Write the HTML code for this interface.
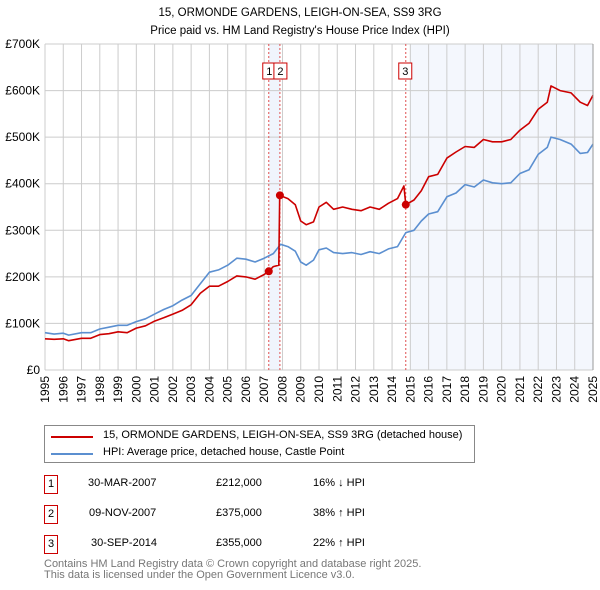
<!DOCTYPE html>
<html><head><meta charset="utf-8"><style>
body{margin:0;background:#fff;font-family:"Liberation Sans","DejaVu Sans",sans-serif;}
#wrap{position:relative;width:600px;height:590px;overflow:hidden}
.t{position:absolute;font-size:11px;color:#000;white-space:nowrap}
</style></head><body><div id="wrap">
<svg id="chart" width="600" height="415" style="position:absolute;left:0;top:0"></svg>
<div style="position:absolute;left:44px;top:425px;width:429px;height:36px;border:1px solid #888;background:#fff">
 <div><div style="position:absolute;left:6px;top:10px;width:42px;height:2px;background:#cc0000"></div><span class="t" style="left:58px;top:3px">15, ORMONDE GARDENS, LEIGH-ON-SEA, SS9 3RG (detached house)</span></div>
 <div><div style="position:absolute;left:6px;top:27px;width:42px;height:2px;background:#5b8fd0"></div><span class="t" style="left:58px;top:20px">HPI: Average price, detached house, Castle Point</span></div>
</div>
<div>
<div><div class="t" style="left:44px;top:475px;width:12px;height:17px;border:1px solid #cc0000;text-align:center;line-height:17px">1</div><span class="t" style="left:88px;top:477px">30-MAR-2007</span><span class="t" style="left:216px;top:477px">£212,000</span><span class="t" style="left:313px;top:477px">16% ↓ HPI</span></div>
<div><div class="t" style="left:44px;top:505px;width:12px;height:17px;border:1px solid #cc0000;text-align:center;line-height:17px">2</div><span class="t" style="left:89px;top:507px">09-NOV-2007</span><span class="t" style="left:216px;top:507px">£375,000</span><span class="t" style="left:313px;top:507px">38% ↑ HPI</span></div>
<div><div class="t" style="left:44px;top:535px;width:12px;height:17px;border:1px solid #cc0000;text-align:center;line-height:17px">3</div><span class="t" style="left:91px;top:537px">30-SEP-2014</span><span class="t" style="left:216px;top:537px">£355,000</span><span class="t" style="left:313px;top:537px">22% ↑ HPI</span></div>
</div>
<div class="t" style="left:44px;top:559px;color:#777;font-size:11px;line-height:10.5px">Contains HM Land Registry data © Crown copyright and database right 2025.<br>This data is licensed under the Open Government Licence v3.0.</div>
</div>
<script>
const hpiYears=[1995,1995.5,1996,1996.3,1997,1997.5,1998,1998.5,1999,1999.5,2000,2000.5,2001,2001.5,2002,2002.5,2003,2003.5,2004,2004.5,2005,2005.5,2006,2006.5,2007,2007.5,2007.9,2008.3,2008.7,2009,2009.3,2009.7,2010,2010.4,2010.8,2011.3,2011.8,2012.3,2012.8,2013.3,2013.8,2014.3,2014.75,2015.2,2015.6,2016,2016.5,2017,2017.5,2018,2018.5,2019,2019.5,2020,2020.5,2021,2021.5,2022,2022.5,2022.7,2023.2,2023.8,2024.3,2024.7,2025];
const hpiValues=[80,77,79,75,80,80,88,92,96,96,104,110,120,130,138,150,160,185,210,215,225,240,238,232,240,250,270,265,255,232,225,236,258,262,252,250,252,248,254,250,260,265,295,300,320,335,340,372,380,398,393,408,402,400,402,422,430,463,478,500,495,485,465,467,485];
const propYears=[1995,1995.5,1996,1996.3,1997,1997.5,1998,1998.5,1999,1999.5,2000,2000.5,2001,2001.5,2002,2002.5,2003,2003.5,2004,2004.5,2005,2005.5,2006,2006.5,2007,2007.25,2007.5,2007.8,2007.85,2008.3,2008.7,2009,2009.3,2009.7,2010,2010.4,2010.8,2011.3,2011.8,2012.3,2012.8,2013.3,2013.8,2014.3,2014.65,2014.75,2015.2,2015.6,2016,2016.5,2017,2017.5,2018,2018.5,2019,2019.5,2020,2020.5,2021,2021.5,2022,2022.5,2022.7,2023.2,2023.8,2024.3,2024.7,2025];
const propValues=[67,66,67,63,68,68,76,78,82,80,90,95,105,112,120,128,140,165,180,180,190,202,200,195,205,212,222,225,375,368,355,320,312,318,350,360,345,350,345,342,350,345,358,368,395,355,365,385,415,420,455,468,480,478,495,490,490,495,515,530,560,575,610,600,595,575,568,590];
const saleYears=[2007.25,2007.86,2014.75];
const saleValues=[212,375,355];
const saleLabels=["1","2","3"];
const yTicks=[0,100,200,300,400,500,600,700];
const yTickLabels=["£0","£100K","£200K","£300K","£400K","£500K","£600K","£700K"];
const xTicks=[1995,1996,1997,1998,1999,2000,2001,2002,2003,2004,2005,2006,2007,2008,2009,2010,2011,2012,2013,2014,2015,2016,2017,2018,2019,2020,2021,2022,2023,2024,2025];

const svg=document.getElementById('chart');const NS='http://www.w3.org/2000/svg';
const X0=45,X1=593,Y0=370,Y1=44;
const xs=y=>X0+(y-1995)/(2025-1995)*(X1-X0);
const ys=v=>Y0-v/700*(Y0-Y1);
function mk(tag,attrs,parent){const e=document.createElementNS(NS,tag);for(const k in attrs)e.setAttribute(k,attrs[k]);(parent||svg).appendChild(e);return e;}
let s=mk('rect',{x:xs(saleYears[0]),y:Y1,width:xs(saleYears[1])-xs(saleYears[0]),height:Y0-Y1,fill:'#f0f4fc'});


s=mk('rect',{x:xs(2015.0),y:Y1,width:X1-xs(2015.0),height:Y0-Y1,fill:'#f4f7fd'});


xTicks.forEach(t=>{const l=mk('line',{x1:xs(t),x2:xs(t),y1:Y1,y2:Y0,stroke:'#ccc','stroke-width':1});


const tx=mk('text',{x:0,y:0,transform:`translate(${xs(t)+4},${Y0+6}) rotate(-90)`,'text-anchor':'end','font-size':12,fill:'#000','font-family':'Liberation Sans, sans-serif'});tx.textContent=t;

});
yTicks.forEach((t,i)=>{const l=mk('line',{x1:X0,x2:X1,y1:ys(t),y2:ys(t),stroke:'#ccc','stroke-width':1});


const tx=mk('text',{x:40,y:ys(t)+4,'text-anchor':'end','font-size':12,fill:'#000','font-family':'Liberation Sans, sans-serif'});tx.textContent=yTickLabels[i];

});
saleYears.forEach((y,i)=>{const l=mk('line',{x1:xs(y),x2:xs(y),y1:Y1,y2:Y0,stroke:'#e05050','stroke-width':1,'stroke-dasharray':'2,2'});

});
function path(xv,yv,color,name){const d=xv.map((x,i)=>(i?'L':'M')+xs(x).toFixed(1)+' '+ys(yv[i]).toFixed(1)).join('');
const p=mk('path',{d:d,fill:'none',stroke:color,'stroke-width':1.6,'stroke-linejoin':'round'});

}
path(hpiYears,hpiValues,'#5b8fd0','hpi-line');
path(propYears,propValues,'#cc0000','property-price-line');
saleYears.forEach((y,i)=>{const c=mk('circle',{cx:xs(y),cy:ys(saleValues[i]),r:4,fill:'#cc0000'});

});
const labX=[xs(saleYears[0])-6,xs(saleYears[1])-6,xs(saleYears[2])-7];
saleLabels.forEach((t,i)=>{const g=mk('g',{});


mk('rect',{x:labX[i],y:63,width:13,height:16,fill:'#fff',stroke:'#cc0000','stroke-width':1},g);
const tx=mk('text',{x:labX[i]+6.5,y:75,'text-anchor':'middle','font-size':11,fill:'#000','font-family':'Liberation Sans, sans-serif'},g);tx.textContent=t;});
mk('line',{x1:X1,x2:X1,y1:Y1,y2:Y0,stroke:'#999','stroke-width':1});
[["15, ORMONDE GARDENS, LEIGH-ON-SEA, SS9 3RG",12],["Price paid vs. HM Land Registry's House Price Index (HPI)",30]].forEach((a,i)=>{const tx=mk('text',{x:300,y:a[1]+4,'text-anchor':'middle','font-size':11.5,fill:'#000','font-family':'Liberation Sans, sans-serif'});tx.textContent=a[0];

});
</script></body></html>
